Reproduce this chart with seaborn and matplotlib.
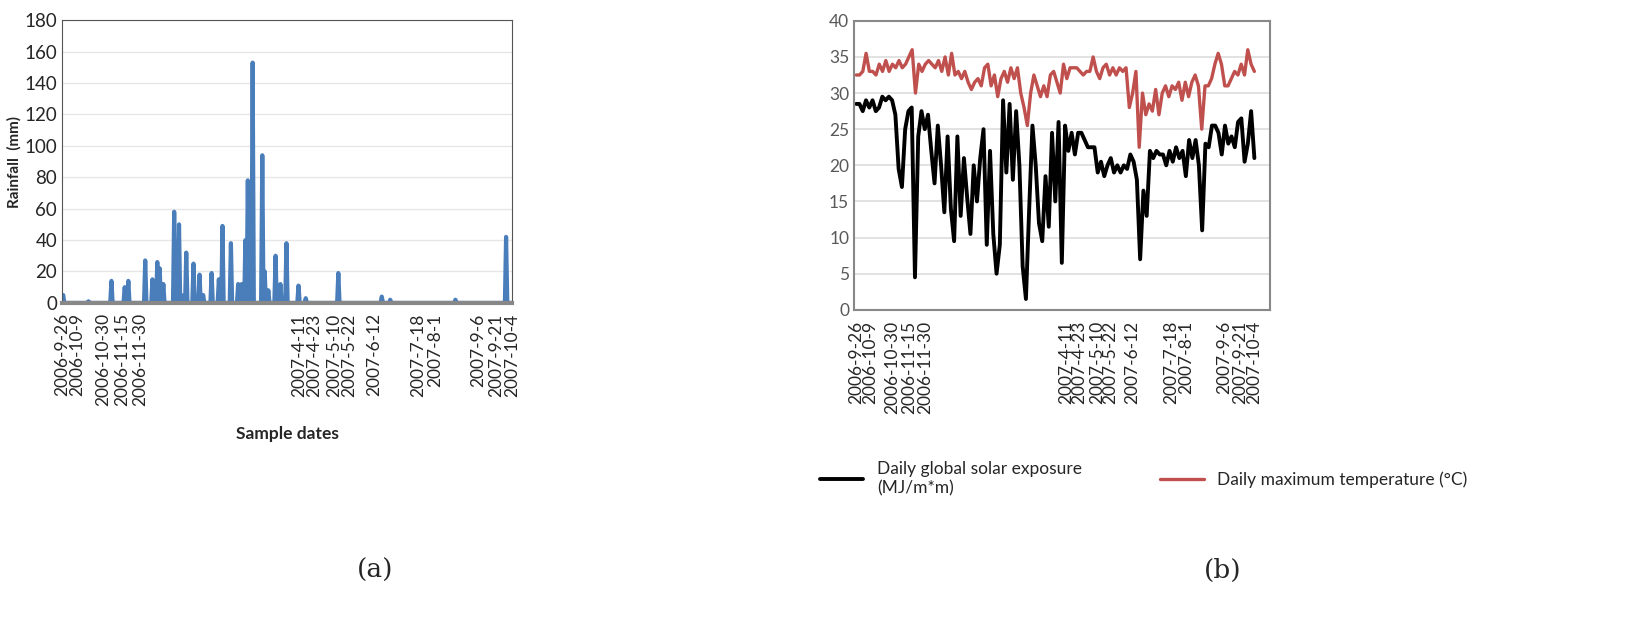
import matplotlib
matplotlib.use("Agg")
import matplotlib.pyplot as plt
import seaborn as sns
import numpy as np
import pandas as pd

start = pd.Timestamp("2006-09-26")
end = pd.Timestamp("2007-10-04")
days = pd.date_range(start, end, freq="D")

# rainfall events (day offset from start, mm); other days are dry
rain_day = [1, 22, 41, 52, 55, 69, 75, 79, 81, 84, 93, 97, 99, 103, 109, 114, 117,
            124, 130, 133, 140, 146, 149, 152, 154, 156, 158, 166, 168, 171, 177, 181,
            186, 196, 202, 229, 265, 272, 326, 368]
rain_mm = [5, 1, 14, 10, 14, 27, 15, 26, 22, 12, 58, 50, 5, 32, 25, 18, 5,
           19, 15, 49, 38, 12, 12, 40, 78, 15, 153, 94, 20, 8, 30, 12,
           38, 11, 3, 19, 4, 2, 2, 42]

tick_dates = ["2006-9-26", "2006-10-9", "2006-10-30", "2006-11-15", "2006-11-30",
              "2007-4-11", "2007-4-23", "2007-5-10", "2007-5-22", "2007-6-12",
              "2007-7-18", "2007-8-1", "2007-9-6", "2007-9-21", "2007-10-4"]

solar = [28.5, 28.5, 27.5, 29, 28, 29, 27.5, 28, 29.5, 29, 29.5, 29, 27, 19.5, 17, 25,
         27.5, 28, 4.5, 24, 27.5, 25, 27, 22, 17.5, 25.5, 20, 13.5, 24, 14, 9.5, 24,
         13, 21, 15.5, 10.5, 20, 15, 21, 25, 9, 22, 10.5, 5, 9, 29, 19, 28.5, 18, 27.5,
         20, 6, 1.5, 14, 25.5, 20, 12, 9.5, 18.5, 11.5, 24.5, 15, 26, 6.5, 25.5, 22,
         24.5, 21.5, 24.5, 24.5, 23.5, 22.5, 22.5, 22.5, 19, 20.5, 18.5, 20, 21, 19,
         20, 19, 20, 19.5, 21.5, 20.5, 18, 7, 16.5, 13, 22, 21, 22, 21.5, 21.5, 20,
         22, 20.5, 22.5, 21, 22, 18.5, 23.5, 21, 23.5, 20, 11, 23, 22.5, 25.5, 25.5,
         24.5, 21.5, 25.5, 23, 24, 22.5, 26, 26.5, 20.5, 23, 27.5, 21]

temp = [32.5, 32.5, 33, 35.5, 33, 33, 32.5, 34, 33, 34.5, 33, 34, 33.5, 34.5, 33.5, 34,
        35, 36, 30, 34, 33, 34, 34.5, 34, 33.5, 34.5, 33, 35, 32.5, 35.5, 32.5, 33,
        32, 33, 31.5, 30.5, 31.5, 32, 31, 33.5, 34, 31, 32.5, 29.5, 32, 33, 31.5, 33.5,
        32, 33.5, 30, 28, 25.5, 30, 32.5, 31, 29.5, 31, 29.5, 32.5, 33, 31.5, 30, 34,
        32, 33.5, 33.5, 33.5, 33, 32.5, 33, 33, 35, 33, 32, 33.5, 34, 32.5, 33.5, 32.5,
        33.5, 33, 33.5, 28, 30, 33, 22.5, 30, 27, 28.5, 27.5, 30.5, 27, 30, 31, 29.5,
        31, 30.5, 31.5, 29, 31.5, 29.5, 31.5, 32.5, 31, 25, 31, 31, 32, 34, 35.5, 34,
        31, 31, 32, 33, 32.5, 34, 32.5, 36, 34, 33]

rain = pd.Series(0.0, index=days)
for d, v in zip(rain_day, rain_mm):
    rain.iloc[d] = v
rain_df = pd.DataFrame({"date": days, "rain": rain.values})
solar_df = pd.DataFrame({"date": pd.date_range(start, end, periods=len(solar)), "v": solar})
temp_df = pd.DataFrame({"date": pd.date_range(start, end, periods=len(temp)), "v": temp})
ticks = [pd.Timestamp(t) for t in tick_dates]

sns.set_style("white")
plt.rcParams["font.family"] = ["Lato", "DejaVu Sans"]

fig = plt.figure(figsize=(16.52, 6.31), dpi=100)
ax1 = fig.add_axes([0.0375, 0.52, 0.2725, 0.448])
ax2 = fig.add_axes([0.517, 0.509, 0.252, 0.458])

# (a) rainfall
sns.lineplot(data=rain_df, x="date", y="rain", ax=ax1, color="#4a7ebb", linewidth=3)
ax1.set_xlim(start, end)
ax1.set_ylim(0, 180)
ax1.set_yticks(range(0, 181, 20))
ax1.yaxis.grid(True, color="#e6e6e6", linewidth=1)
ax1.set_xticks(ticks)
ax1.set_xticklabels(tick_dates, rotation=90, fontsize=12.5)
ax1.set_xticks(pd.date_range(start, end, periods=21), minor=True)
ax1.tick_params(axis="x", which="both", length=4, color="#888888", width=2, direction="out")
ax1.tick_params(axis="y", labelsize=13.5, length=0)
ax1.set_ylabel("Rainfall  (mm)", fontsize=11, fontweight="bold", labelpad=2)
ax1.set_xlabel("Sample dates", fontsize=12.5, fontweight="bold", labelpad=14)
for s in ax1.spines.values():
    s.set_color("#555555")
ax1.spines["bottom"].set_color("#888888")
ax1.spines["bottom"].set_linewidth(3)

# (b) solar exposure & max temperature
sns.lineplot(data=solar_df, x="date", y="v", ax=ax2, color="black", linewidth=2.8,
             label="Daily global solar exposure\n(MJ/m*m)")
sns.lineplot(data=temp_df, x="date", y="v", ax=ax2, color="#c0504d", linewidth=2.4,
             label="Daily maximum temperature (°C)")
ax2.set_xlim(start - pd.Timedelta(days=2), end + pd.Timedelta(days=15))
ax2.set_ylim(0, 40)
ax2.set_yticks(range(0, 41, 5))
ax2.yaxis.grid(True, color="#dddddd", linewidth=1.2)
ax2.set_xticks(ticks)
ax2.set_xticklabels(tick_dates, rotation=90, fontsize=12.5)
ax2.tick_params(axis="x", length=0, pad=8)
ax2.tick_params(axis="y", labelsize=12.5, length=0, labelcolor="#595959")
ax2.set_xlabel("")
ax2.set_ylabel("")
for s in ax2.spines.values():
    s.set_color("#888888")
    s.set_linewidth(1.5)
ax2.legend(loc="upper left", bbox_to_anchor=(-0.12, -0.47), ncol=2, frameon=False,
           fontsize=12.5, handlelength=2.5, columnspacing=4.5)

fig.text(0.227, 0.084, "(a)", fontsize=19, ha="center", family="DejaVu Serif")
fig.text(0.74, 0.084, "(b)", fontsize=19, ha="center", family="DejaVu Serif")

fig.savefig("out.png", dpi=100)
